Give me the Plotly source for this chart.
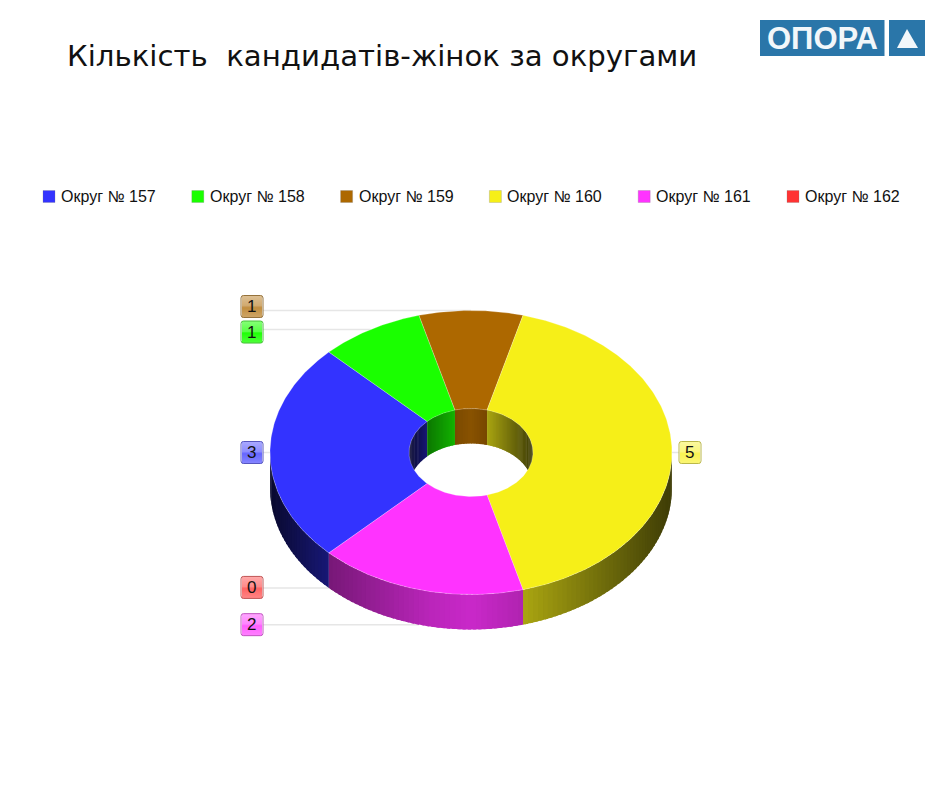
import numpy as np
import plotly.graph_objects as go

# ---- data ----
districts = ["Округ № 157", "Округ № 158", "Округ № 159", "Округ № 160", "Округ № 161", "Округ № 162"]
values = [3, 1, 1, 5, 2, 0]
colors = ["#3333FF", "#1AFF00", "#AD6800", "#F6EF18", "#FF33FF", "#FF3333"]
title_text = "Кількість  кандидатів-жінок за округами"
logo_text = "ОПОРА"

# ---- geometry / style ----
CX, CY, RX, RY = 471, 452.5, 201, 142
HX, HY = 62, 44
DEPTH = 35
START = 225.0
FONT = "Liberation Sans"

def rgb(h):
    return np.array([int(h[i:i + 2], 16) for i in (1, 3, 5)], float)

def css(c):
    return "rgb(%d,%d,%d)" % tuple(np.clip(np.round(c), 0, 255))

def mix(c, other, a):
    return c * (1 - a) + np.array(other, float) * a

SHADE_T = [-1.0, -0.7, -0.2, 0.0, 0.26, 1.0]
SHADE_V = [0.18, 0.47, 0.73, 0.79, 0.69, 0.25]
def shade(theta):
    return float(np.interp(np.cos(np.radians(theta)), SHADE_T, SHADE_V))

def ell(theta, rx, ry, dy=0.0):
    t = np.radians(theta)
    return CX + rx * np.cos(t), CY - ry * np.sin(t) + dy

fig = go.Figure()

def poly(xs, ys, fill, line=None, name=None, width=1):
    fig.add_trace(go.Scatter(
        x=list(xs), y=list(ys), mode="lines", fill="toself", fillcolor=fill,
        line=dict(color=line or fill, width=width if line else 0),
        hoverinfo="text" if name else "skip", text=name, showlegend=False))

# slice angles, clockwise from the start angle
total = sum(values)
spans = []
a = START
for v in values:
    b = a - 360.0 * v / total
    spans.append((a, b))
    a = b

# leader lines
lead_lines = []
for i, (a, b) in enumerate(spans):
    m = (a + b) / 2
    c = np.cos(np.radians(m))
    s = np.sin(np.radians(m))
    px, py = ell(m, RX, RY, DEPTH if s < -0.01 else 0)
    lead_lines.append((i, m, px, py, c))

BOX = 22
LEFT_BOX_X = 241
RIGHT_BOX_X = 679
label_nudge = [0, 2.5, -4, 0, 0, -0.5]
for i, m, px, py, c in lead_lines:
    ex = LEFT_BOX_X + BOX if c < 0.5 else RIGHT_BOX_X
    fig.add_trace(go.Scatter(x=[ex, px], y=[py, py], mode="lines",
                             line=dict(color="#E6E6E6", width=1.5),
                             hoverinfo="skip", showlegend=False))

# walls
STEP = 1.5
def wall(a, b, rx, ry, front, col):
    th = a
    while th > b + 1e-6:
        nxt = max(th - STEP, b)
        ext = max(th - STEP * 1.6, b)
        mid = (th + nxt) / 2
        sn = np.sin(np.radians(mid))
        if (front and sn < 0) or (not front and sn > 0):
            arc = np.linspace(th, ext, 4)
            x0, y0 = ell(arc, rx, ry)
            x1, y1 = ell(arc[::-1], rx, ry, DEPTH)
            poly(np.r_[x0, x1], np.r_[y0, y1], css(col * shade(mid)))
        th = nxt

for i, v in enumerate(values):
    if v:
        wall(*spans[i], HX, HY, False, rgb(colors[i]))
for i, v in enumerate(values):
    if v:
        wall(*spans[i], RX, RY, True, rgb(colors[i]))

# top surface
for i, v in enumerate(values):
    if not v:
        continue
    a, b = spans[i]
    arc = np.linspace(a, b, max(int((a - b) * 1.5), 8))
    xo, yo = ell(arc, RX, RY)
    xi, yi = ell(arc[::-1], HX, HY)
    poly(np.r_[xo, xi, xo[0]], np.r_[yo, yi, yo[0]], colors[i],
         line="rgba(255,255,255,0.3)", name="%s: %d" % (districts[i], v), width=0.8)

# value labels with a glossy box
shapes = []
annotations = []
for i, m, px, py, c in lead_lines:
    x0 = LEFT_BOX_X if c < 0.5 else RIGHT_BOX_X
    yc = py + label_nudge[i]
    y0 = yc - BOX / 2
    col = rgb(colors[i])
    rows = 22
    for r in range(rows):
        f = r / (rows - 1)
        if f < 0.5:
            al = 0.46 - 0.20 * f / 0.5
        else:
            al = 0.22 * (f - 0.5) / 0.5
        if r == 11:
            al = 0.10
        shapes.append(dict(type="rect", xref="x", yref="y", layer="above",
                           x0=x0 + 1, x1=x0 + BOX - 1, y0=y0 + r, y1=y0 + r + 1.05,
                           fillcolor=css(mix(col, (255, 255, 255), al)), line=dict(width=0)))
    rad = 2.5
    X1, Y1 = x0 + BOX, y0 + BOX
    shapes.append(dict(type="path", xref="x", yref="y", layer="above",
                       path=f"M{x0+rad},{y0} L{X1-rad},{y0} Q{X1},{y0} {X1},{y0+rad} L{X1},{Y1-rad} "
                            f"Q{X1},{Y1} {X1-rad},{Y1} L{x0+rad},{Y1} Q{x0},{Y1} {x0},{Y1-rad} "
                            f"L{x0},{y0+rad} Q{x0},{y0} {x0+rad},{y0} Z",
                       line=dict(color=css(mix(col * 0.8, (170, 170, 170), 0.35)), width=1)))
    annotations.append(dict(x=x0 + BOX / 2 - 0.5, y=yc, xref="x", yref="y", text=str(values[i]),
                            showarrow=False, xanchor="center", yanchor="middle",
                            font=dict(family=FONT, size=17, color="#111111")))

# legend row
LEG_X0, LEG_DX, LEG_Y = 49, 148.8, 196.5
for k, name in enumerate(districts):
    fig.add_trace(go.Scatter(
        x=[LEG_X0 + k * LEG_DX], y=[LEG_Y], mode="markers", hoverinfo="skip", showlegend=False,
        marker=dict(symbol="square", size=12, color=colors[k], line=dict(width=0.5, color="rgba(120,120,120,0.5)"))))
    annotations.append(dict(x=LEG_X0 + k * LEG_DX + 10, y=LEG_Y, xref="x", yref="y", text=name,
                            showarrow=False, xanchor="left", yanchor="middle",
                            font=dict(family=FONT, size=16, color="#111111")))

# logo
LOGO = "#2A76A9"
shapes.append(dict(type="rect", xref="x", yref="y", x0=760, x1=884.5, y0=20, y1=56, fillcolor=LOGO, line=dict(width=0)))
shapes.append(dict(type="rect", xref="x", yref="y", x0=889, x1=925, y0=20, y1=56, fillcolor=LOGO, line=dict(width=0)))
shapes.append(dict(type="path", xref="x", yref="y", path="M907,29 L918,48 L897,48 Z", fillcolor="#F2F7FA", line=dict(width=0)))
annotations.append(dict(x=822, y=38.5, xref="x", yref="y", text="<b>%s</b>" % logo_text, showarrow=False,
                        xanchor="center", yanchor="middle",
                        font=dict(family=FONT, size=31, color="#F2F7FA")))

annotations.append(dict(x=65, y=56, xref="x", yref="y", text=title_text, showarrow=False,
                        xanchor="left", yanchor="middle",
                        font=dict(family="DejaVu Sans", size=29.2, color="#111111")))

fig.update_layout(
    width=940, height=788, margin=dict(l=0, r=0, t=0, b=0),
    paper_bgcolor="white", plot_bgcolor="white", showlegend=False,
    xaxis=dict(range=[0, 940], visible=False, fixedrange=True),
    yaxis=dict(range=[788, 0], visible=False, fixedrange=True),
    shapes=shapes, annotations=annotations, hovermode="closest")

fig.write_html("out.html", config={"displayModeBar": False},
               post_script="document.body.style.margin='0';document.body.style.overflow='hidden';")
